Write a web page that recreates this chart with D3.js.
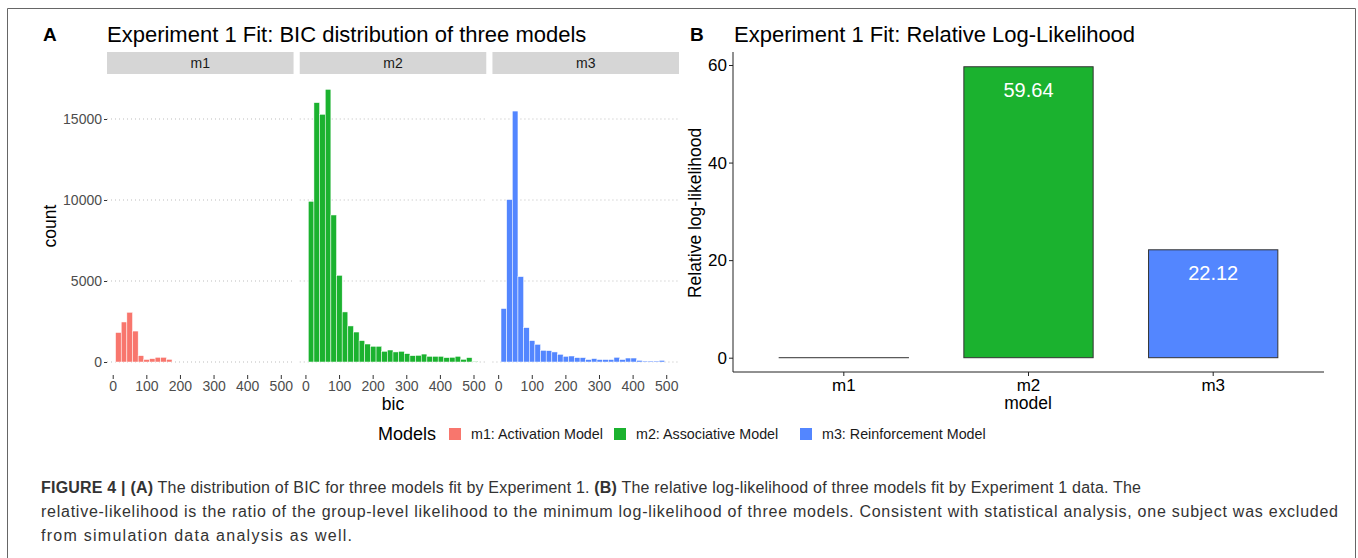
<!DOCTYPE html>
<html lang="en">
<head>
<meta charset="UTF-8">
<title>Experiment 1 Fit</title>
<script src="https://cdn.jsdelivr.net/npm/d3@7"></script>
<style>
  body { margin: 0; background: #fff; }
  svg text { font-family: "Liberation Sans", Arial, Helvetica, sans-serif; }
</style>
</head>
<body>
<svg width="1358" height="558"></svg>
<script>
// models and labels
var models = ["m1", "m2", "m3"]
var modelNames = ["m1: Activation Model", "m2: Associative Model", "m3: Reinforcement Model"]
var colors = ["#F8766D", "#1BB22F", "#5386FF"]

// histogram counts (30 bins over bic)
var binStart = 8.5
var binWidth = 16.8
var countsM1 = [1820, 2470, 3070, 1910, 390, 155, 205, 290, 290, 165,
  0, 0, 0, 0, 0, 0, 0, 0, 0, 0, 0, 0, 0, 0, 0, 0, 0, 0, 0, 0]
var countsM2 = [9920, 16010, 15290, 16830, 9075, 5350, 3090, 2225, 1850, 1320,
  1110, 970, 970, 660, 740, 620, 660, 515, 390, 410,
  490, 350, 350, 350, 270, 290, 350, 165, 270, 40]
var countsM3 = [3300, 10025, 15490, 5270, 2120, 1320, 1090, 720, 700, 620,
  475, 350, 370, 270, 270, 150, 210, 150, 150, 150,
  290, 150, 245, 245, 100, 60, 60, 60, 100, 0]
var countTicks = [0, 5000, 10000, 15000]
var bicTicks = [0, 100, 200, 300, 400, 500]

// relative log-likelihood
var relLL = [0, 59.64, 22.12]
var llTicks = [0, 20, 40, 60]

var svg = d3.select("svg")

// frame around the figure
svg.append("path")
  .attr("d", "M7.5,558 L7.5,8.5 L1355.5,8.5 L1355.5,558")
  .attr("fill", "none").attr("stroke", "#666").attr("stroke-width", 1)

// ---------- panel A ----------
var gA = svg.append("g")
var facet = d3.scaleBand().domain(models).range([107, 679]).paddingInner(0.032)
var x = d3.scaleLinear().domain([-17, 538]).range([0, facet.bandwidth()])
var y = d3.scaleLinear().domain([0, 15000]).range([362, 119])
var allCounts = [countsM1, countsM2, countsM3]

gA.append("text").attr("x", 43).attr("y", 41).attr("font-size", 19).attr("font-weight", "bold").text("A")
gA.append("text").attr("x", 107).attr("y", 42).attr("font-size", 22).attr("fill", "#000")
  .text("Experiment 1 Fit: BIC distribution of three models")

models.forEach(function (m, i) {
  var p = gA.append("g").attr("transform", "translate(" + facet(m) + ",0)")
  // strip
  p.append("rect").attr("x", 0).attr("y", 52).attr("width", facet.bandwidth()).attr("height", 22).attr("fill", "#D6D6D6")
  p.append("text").attr("x", facet.bandwidth() / 2).attr("y", 68).attr("text-anchor", "middle")
    .attr("font-size", 14).attr("fill", "#1a1a1a").text(m)
  // dotted grid
  p.selectAll(".grid").data(countTicks).enter().append("line")
    .attr("x1", 0).attr("x2", facet.bandwidth())
    .attr("y1", d => y(d)).attr("y2", d => y(d))
    .attr("stroke", "#bdbdbd").attr("stroke-width", 1).attr("stroke-dasharray", "1,3")
  // bars
  p.selectAll(".bar").data(allCounts[i]).enter().append("rect")
    .attr("x", (d, j) => x(binStart + j * binWidth))
    .attr("width", x(binWidth) - x(0))
    .attr("y", d => y(d))
    .attr("height", d => y(0) - y(d))
    .attr("fill", colors[i]).attr("stroke", "#fff").attr("stroke-width", 0.5)
  // x axis
  var ax = p.append("g").attr("transform", "translate(0,375)")
    .call(d3.axisBottom(x).tickValues(bicTicks).tickSize(4).tickPadding(2))
  ax.select(".domain").remove()
  ax.selectAll("line").attr("stroke", "#333")
  ax.selectAll("text").attr("font-size", 14).attr("fill", "#4d4d4d")
})

var ay = gA.append("g").attr("transform", "translate(107,0)")
  .call(d3.axisLeft(y).tickValues(countTicks).tickFormat(d3.format("d")).tickSize(3).tickPadding(2))
ay.select(".domain").remove()
ay.selectAll("line").attr("stroke", "#333")
ay.selectAll("text").attr("font-size", 14).attr("fill", "#4d4d4d")

gA.append("text").attr("transform", "translate(56,226) rotate(-90)").attr("text-anchor", "middle")
  .attr("font-size", 17.5).text("count")
gA.append("text").attr("x", 393).attr("y", 410).attr("text-anchor", "middle")
  .attr("font-size", 17.5).text("bic")

// legend
var leg = svg.append("g").attr("transform", "translate(378,440)")
leg.append("text").attr("x", 0).attr("y", 0).attr("font-size", 18).text("Models")
var legX = [71, 236, 422]
modelNames.forEach(function (n, i) {
  leg.append("rect").attr("x", legX[i]).attr("y", -12).attr("width", 12).attr("height", 12).attr("fill", colors[i])
  leg.append("text").attr("x", legX[i] + 22).attr("y", -1).attr("font-size", 14.3).attr("fill", "#1a1a1a").text(n)
})

// ---------- panel B ----------
var gB = svg.append("g")
var xb = d3.scaleBand().domain(models).range([733, 1324]).paddingInner(0.3).paddingOuter(0.25)
var yb = d3.scaleLinear().domain([0, 60]).range([357.7, 65])

gB.append("text").attr("x", 690).attr("y", 41).attr("font-size", 19).attr("font-weight", "bold").text("B")
gB.append("text").attr("x", 734).attr("y", 42).attr("font-size", 22).text("Experiment 1 Fit: Relative Log-Likelihood")

gB.selectAll(".bar").data(relLL).enter().append("rect")
  .attr("x", (d, i) => xb(models[i]))
  .attr("width", xb.bandwidth())
  .attr("y", d => yb(d))
  .attr("height", d => Math.max(yb(0) - yb(d), 0.01))
  .attr("fill", (d, i) => colors[i]).attr("stroke", "#333").attr("stroke-width", 1)

gB.selectAll(".lab").data(relLL).enter().filter(d => d > 0).append("text")
  .attr("x", d => xb(models[relLL.indexOf(d)]) + xb.bandwidth() / 2)
  .attr("y", d => yb(d) + 30)
  .attr("text-anchor", "middle").attr("font-size", 20).attr("fill", "#fff")
  .text(d => d.toFixed(2))

var bx = gB.append("g").attr("transform", "translate(0,372)")
  .call(d3.axisBottom(xb).tickSize(4).tickPadding(3).tickSizeOuter(0))
bx.select(".domain").attr("d", "M733,0H1324")
bx.selectAll("line, path").attr("stroke", "#222")
bx.selectAll("text").attr("font-size", 17).attr("fill", "#000")
var by = gB.append("g").attr("transform", "translate(733,0)")
  .call(d3.axisLeft(yb).tickValues(llTicks).tickSize(4).tickPadding(2))
by.select(".domain").attr("d", "M0,52V372")
by.selectAll("line, path").attr("stroke", "#222")
by.selectAll("text").attr("font-size", 17).attr("fill", "#000")

gB.append("text").attr("transform", "translate(701,213) rotate(-90)").attr("text-anchor", "middle")
  .attr("font-size", 17.5).text("Relative log-likelihood")
gB.append("text").attr("x", 1028).attr("y", 409).attr("text-anchor", "middle")
  .attr("font-size", 17.5).text("model")

// ---------- caption ----------
var cap = svg.append("g").attr("font-size", 16).attr("fill", "#333")
var l1 = cap.append("text").attr("x", 41).attr("y", 493).attr("textLength", 1100).attr("lengthAdjust", "spacing")
l1.append("tspan").attr("font-weight", "bold").text("FIGURE 4 | (A)")
l1.append("tspan").text(" The distribution of BIC for three models fit by Experiment 1. ")
l1.append("tspan").attr("font-weight", "bold").text("(B)")
l1.append("tspan").text(" The relative log-likelihood of three models fit by Experiment 1 data. The")
cap.append("text").attr("x", 41).attr("y", 517).attr("textLength", 1297).attr("lengthAdjust", "spacing")
  .text("relative-likelihood is the ratio of the group-level likelihood to the minimum log-likelihood of three models. Consistent with statistical analysis, one subject was excluded")
cap.append("text").attr("x", 41).attr("y", 541).attr("textLength", 311).attr("lengthAdjust", "spacing")
  .text("from simulation data analysis as well.")
</script>
</body>
</html>
